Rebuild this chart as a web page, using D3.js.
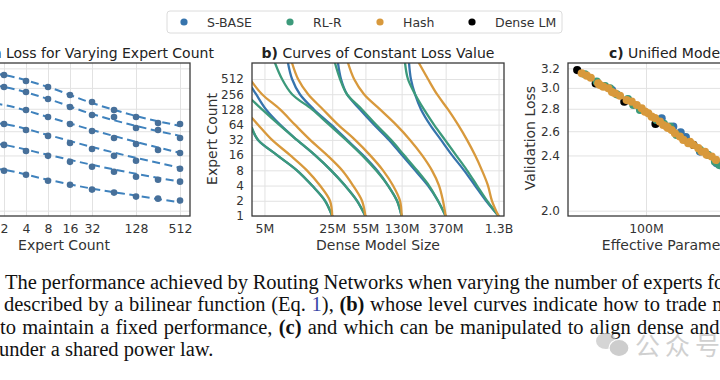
<!DOCTYPE html>
<html><head><meta charset="utf-8">
<script src="https://cdn.jsdelivr.net/npm/d3@7"></script>
<style>body{margin:0;background:#fff;} svg{display:block}</style>
</head><body><svg id="c" width="720" height="380"></svg>
<script>
// ---------------- DATA ----------------
const seriesNames = ["S-BASE", "RL-R", "Hash", "Dense LM"];

// panel a: validation loss vs expert count, one row per dense model size
const aExperts = [2, 4, 8, 16, 32, 64, 128, 256, 512];
const aLossDots = [
  [3.130, 3.069, 3.009, 2.930, 2.863, 2.789, 2.725, 2.672, 2.663],
  [3.009, 2.959, 2.892, 2.816, 2.743, 2.725, 2.628, 2.611, 2.543],
  [null, 2.789, 2.725, 2.663, 2.602, 2.543, 2.493, 2.444, 2.420],
  [2.663, 2.611, 2.560, 2.501, 2.452, 2.397, 2.358, null, 2.297],
  [2.485, 2.436, 2.397, 2.350, 2.312, 2.274, 2.237, 2.215, 2.201],
  [2.282, 2.252, 2.208, 2.179, 2.144, 2.123, 2.095, 2.081, 2.068]
];
const aFitExperts = [1, 2, 8, 32, 128, 512];
const aLossFit = [
  [3.161, 3.130, 3.009, 2.854, 2.734, 2.646],
  [3.038, 3.009, 2.892, 2.752, 2.646, 2.560],
  [2.863, 2.835, 2.725, 2.611, 2.510, 2.420],
  [2.681, 2.663, 2.568, 2.468, 2.381, 2.305],
  [2.510, 2.485, 2.405, 2.327, 2.259, 2.201],
  [2.312, 2.289, 2.215, 2.151, 2.102, 2.055]
];
const aXTicks = [1, 2, 4, 8, 16, 32, 128, 512];
const aYTicks = [2.0, 2.4, 2.6, 2.8, 3.0, 3.2];

// panel b: level curves, points are [dense model size (M), expert count]
const bCurves = [
  // group ending at 25M
  {s: "S-BASE", pts: [[25,1],[21.1,2],[15.5,4],[10.8,8],[6.74,16],[4.29,32],[3.72,52]]},
  {s: "RL-R",   pts: [[25,1],[21.1,2],[15.5,4],[10.8,8],[6.74,16],[4.29,32],[3.72,55]]},
  {s: "Hash",   pts: [[25,1],[23.7,2],[18.7,4],[13.7,8],[9.18,16],[5.99,32],[4.29,64],[3.72,87]]},
  // group ending at 55M
  {s: "S-BASE", pts: [[55,1],[45.1,2],[33.9,4],[24.3,8],[16.6,16],[10.8,32],[7.24,64],[5.19,128],[4.10,256],[3.72,340]]},
  {s: "RL-R",   pts: [[55,1],[45.1,2],[33.9,4],[24.3,8],[16.6,16],[10.8,32],[7.07,64],[4.72,128],[3.72,197]]},
  {s: "Hash",   pts: [[55,1],[50.7,2],[41.0,4],[31.6,8],[22.1,16],[14.8,32],[10.3,64],[7.24,128],[4.72,256],[3.72,450]]},
  // group ending at 130M
  {s: "S-BASE", pts: [[130,1],[116.5,2],[94.1,4],[72.4,8],[51.9,16],[35.5,32],[24.3,64],[16.2,128],[11.6,256],[9.63,512],[8.75,1060]]},
  {s: "RL-R",   pts: [[130,1],[116.5,2],[94.1,4],[70.7,8],[50.7,16],[34.7,32],[23.2,64],[15.5,128],[9.63,256],[7.59,512],[6.43,1060]]},
  {s: "Hash",   pts: [[130,1],[125.1,2],[105.9,4],[83.5,8],[61.3,16],[43.0,32],[28.7,64],[20.1,128],[14.1,256],[11.1,512],[9.63,1060]]},
  // group ending at 370M
  {s: "S-BASE", pts: [[370,1],[308,2],[243,4],[179,8],[131,16],[96.3,32],[67.5,64],[48.4,128],[35.5,256],[30.8,512],[28.7,1060]]},
  {s: "RL-R",   pts: [[370,1],[308,2],[249,4],[187,8],[137.5,16],[101,32],[70.7,64],[50.7,128],[35.5,256],[30.1,512],[26.7,1060]]},
  {s: "Hash",   pts: [[370,1],[347,2],[316,4],[267,8],[211,16],[158.6,32],[113.7,64],[77.8,128],[53.2,256],[42.0,512],[36.4,1060]]},
  // group ending at 1.3B
  {s: "S-BASE", pts: [[1300,1],[964,2],[742,4],[572,8],[430,16],[331,32],[255,64],[206,128],[178.6,256],[162,512],[155,1060]]},
  {s: "RL-R",   pts: [[1300,1],[987,2],[778,4],[614,8],[473,16],[364,32],[280,64],[221,128],[179,256],[151,512],[141,1060]]},
  {s: "Hash",   pts: [[1300,1],[1111,2],[1011,4],[876,8],[742,16],[614,32],[496,64],[391,128],[301,256],[243,512],[196,1060]]}
];
const bXTicks = [5, 25, 55, 130, 370, 1300];
const bXLabels = ["5M", "25M", "55M", "130M", "370M", "1.3B"];
const bYTicks = [1, 2, 4, 8, 16, 32, 64, 128, 256, 512];

// panel c: effective parameters (M) vs validation loss
const cDense = [[15, 3.182], [25, 3.045], [55, 2.866], [130, 2.663], [370, 2.485], [1300, 2.28]];
const cSBase = [[154, 2.713], [212, 2.639], [260, 2.591], [443, 2.431], [703, 2.339], [300, 2.55],
  [39.2, 2.979], [301, 2.526]];
const cRLR = [[18.6, 3.137], [25.7, 3.062], [37.1, 2.996], [44.6, 2.937], [70.5, 2.835], [84.8, 2.789],
  [134, 2.698], [194, 2.639], [233, 2.568], [443, 2.444], [670, 2.350], [755, 2.325],
  [32.3, 3.018], [60.8, 2.892], [164, 2.663], [553, 2.405]];
const cHash = [[17.0, 3.148], [19.5, 3.123], [21.8, 3.102], [26.8, 3.045], [30.8, 3.012], [35.4, 2.996],
  [42.5, 2.947], [48.8, 2.923], [58.7, 2.882], [67.4, 2.866], [77.4, 2.835], [88.8, 2.804],
  [97.3, 2.773], [106.5, 2.758], [117, 2.728], [147, 2.683], [161, 2.654], [177, 2.639],
  [203, 2.610], [222, 2.582], [255, 2.554], [280, 2.526], [321, 2.499], [368, 2.485],
  [423, 2.458], [464, 2.431], [533, 2.405], [612, 2.391],
  [128, 2.715], [183, 2.628], [336, 2.510], [509, 2.428], [689, 2.365], [39.2, 2.959], [28.1, 3.028]];
const cXTicks = [100, 1000];
const cXLabels = ["100M", "1B"];
const cYTicks = [2.0, 2.4, 2.6, 2.8, 3.0, 3.2];

// caption
const captionLines = [
  [["The performance achieved by Routing Networks when varying the number of experts for", ""]],
  [["described by a bilinear function (Eq. ", ""], ["1", "link"], ["), ", ""], ["(b)", "b"], [" whose level curves indicate how to trade model size", ""]],
  [["to maintain a fixed performance, ", ""], ["(c)", "b"], [" and which can be manipulated to align dense and routed", ""]],
  [["under a shared power law.", ""]]
];

// ---------------- STYLE ----------------
const colors = {"S-BASE": "#3674ad", "RL-R": "#3c9a7b", "Hash": "#d8993c", "Dense LM": "#000000"};
const FONT = "DejaVu Sans, sans-serif";
const TXT = "#333";
const svg = d3.select("#c");
svg.append("rect").attr("width", 720).attr("height", 380).attr("fill", "#fff");
const defs = svg.append("defs");

const pTop = 63, pBot = 216;

function frame(id, x, y, xTicks, xFmt, yTicks, yFmt, showY) {
  const [x0, x1] = x.range();
  defs.append("clipPath").attr("id", id).append("rect")
    .attr("x", x0).attr("y", pTop).attr("width", x1 - x0).attr("height", pBot - pTop);
  const g = svg.append("g");
  g.append("g").attr("transform", `translate(0,${pBot})`)
    .call(d3.axisBottom(x).tickValues(xTicks).tickSize(-(pBot - pTop)).tickFormat(""))
    .call(a => a.select(".domain").remove())
    .call(a => a.selectAll("line").attr("stroke", "#e2e2e2").attr("stroke-width", 1));
  g.append("g").attr("transform", `translate(${x0},0)`)
    .call(d3.axisLeft(y).tickValues(yTicks).tickSize(-(x1 - x0)).tickFormat(""))
    .call(a => a.select(".domain").remove())
    .call(a => a.selectAll("line").attr("stroke", "#e2e2e2").attr("stroke-width", 1));
  g.append("g").attr("transform", `translate(0,${pBot})`)
    .call(d3.axisBottom(x).tickValues(xTicks).tickSize(0).tickPadding(8).tickFormat(xFmt))
    .call(a => a.select(".domain").remove())
    .call(a => a.selectAll("text").attr("font-family", FONT).attr("font-size", 12.5).attr("fill", TXT));
  if (showY) {
    g.append("g").attr("transform", `translate(${x0},0)`)
      .call(d3.axisLeft(y).tickValues(yTicks).tickSize(0).tickPadding(8).tickFormat(yFmt))
      .call(a => a.select(".domain").remove())
      .call(a => a.selectAll("text").attr("font-family", FONT).attr("font-size", 12).attr("fill", TXT));
  }
  return g;
}
function border(x) {
  const [x0, x1] = x.range();
  svg.append("rect").attr("x", x0).attr("y", pTop).attr("width", x1 - x0).attr("height", pBot - pTop)
    .attr("fill", "none").attr("stroke", "#3a3a3a").attr("stroke-width", 1.3);
}
function title(cxp, tag, rest) {
  const t = svg.append("text").attr("x", cxp).attr("y", 58).attr("text-anchor", "middle")
    .attr("font-family", FONT).attr("font-size", 14).attr("fill", "#222");
  t.append("tspan").attr("font-weight", "bold").text(tag);
  t.append("tspan").text(" " + rest);
}
function xlabel(cxp, s) {
  svg.append("text").attr("x", cxp).attr("y", 250).attr("text-anchor", "middle")
    .attr("font-family", FONT).attr("font-size", 14).attr("fill", TXT).text(s);
}
function ylabel(x, cyp, s) {
  svg.append("text").attr("transform", `translate(${x},${cyp}) rotate(-90)`).attr("text-anchor", "middle")
    .attr("font-family", FONT).attr("font-size", 14).attr("fill", TXT).text(s);
}

// ---------------- PANEL A ----------------
const ax = d3.scaleLog().base(2).domain([0.25, 701]).range([-62, 190]);
const ay = d3.scaleLog().domain([1.965, 3.257]).range([pBot, pTop]);
frame("clipA", ax, ay, aXTicks, d => d, aYTicks, d3.format(".1f"), false);
const gA = svg.append("g").attr("clip-path", "url(#clipA)");
const aLine = d3.line().x(d => ax(d[0])).y(d => ay(d[1])).curve(d3.curveMonotoneX);
aLossFit.forEach(row => {
  gA.append("path").datum(aFitExperts.map((e, i) => [e, row[i]]))
    .attr("d", aLine).attr("fill", "none").attr("stroke", "#3f82bd").attr("stroke-width", 2)
    .attr("stroke-dasharray", "8,4.5");
});
aLossDots.forEach(row => {
  gA.selectAll(null).data(aExperts.map((e, i) => [e, row[i]]).filter(d => d[1] != null))
    .enter().append("circle").attr("cx", d => ax(d[0])).attr("cy", d => ay(d[1])).attr("r", 3.3)
    .attr("fill", "#47709a");
});
border(ax);
title(63, "a)", "Validation Loss for Varying Expert Count");
xlabel(64, "Expert Count");

// ---------------- PANEL B ----------------
const bx = d3.scaleLog().domain([3.72, 1479]).range([252, 504]);
const by = d3.scaleLog().base(2).domain([1, 1061]).range([pBot, pTop]);
frame("clipB", bx, by, bXTicks, (d, i) => bXLabels[i], bYTicks, d => d, true);
const gB = svg.append("g").attr("clip-path", "url(#clipB)");
const bLine = d3.line().x(d => bx(d[0])).y(d => by(d[1])).curve(d3.curveCatmullRom.alpha(0.5));
bCurves.forEach(c => {
  gB.append("path").datum(c.pts).attr("d", bLine).attr("fill", "none")
    .attr("stroke", colors[c.s]).attr("stroke-width", 2.3).attr("stroke-linecap", "round");
});
border(bx);
title(378, "b)", "Curves of Constant Loss Value");
xlabel(378, "Dense Model Size");
ylabel(217, 139, "Expert Count");

// ---------------- PANEL C ----------------
const cxs = d3.scaleLog().domain([11.64, 12140]).range([568, 820]);
const cys = d3.scaleLog().domain([1.965, 3.257]).range([pBot, pTop]);
frame("clipC", cxs, cys, cXTicks, (d, i) => cXLabels[i], cYTicks, d3.format(".1f"), true);
const gC = svg.append("g").attr("clip-path", "url(#clipC)");
[[cDense, "Dense LM"], [cSBase, "S-BASE"], [cRLR, "RL-R"], [cHash, "Hash"]].forEach(([arr, s]) => {
  gC.selectAll(null).data(arr).enter().append("circle")
    .attr("cx", d => cxs(d[0])).attr("cy", d => cys(d[1])).attr("r", 4.1).attr("fill", colors[s]);
});
border(cxs);
title(694, "c)", "Unified Model Scaling");
xlabel(694, "Effective Parameter Count");
ylabel(535, 138, "Validation Loss");

// ---------------- LEGEND ----------------
const leg = svg.append("g");
leg.append("rect").attr("x", 167).attr("y", 11).attr("width", 395).attr("height", 22).attr("rx", 3)
  .attr("fill", "#fff").attr("stroke", "#dcdcdc");
const legOffsets = {"S-BASE": 184, "RL-R": 290, "Hash": 380, "Dense LM": 472};
seriesNames.forEach(s => {
  const px = legOffsets[s];
  leg.append("circle").attr("cx", px).attr("cy", 22).attr("r", 3.6).attr("fill", colors[s]);
  leg.append("text").attr("x", px + 23).attr("y", 26.5).attr("font-family", FONT).attr("font-size", 12.5)
    .attr("fill", TXT).text(s);
});

// ---------------- CAPTION ----------------
const capX = [5, 4, 0, -1], capY = [289, 311, 334, 356], capWS = [-0.4, 0.5, 1.1, 0];
captionLines.forEach((line, i) => {
  const t = svg.append("text").attr("x", capX[i]).attr("y", capY[i])
    .attr("font-family", "Liberation Serif, Times New Roman, serif").attr("font-size", 20.5)
    .attr("word-spacing", capWS[i]).attr("fill", "#111");
  line.forEach(([s, k]) => {
    const sp = t.append("tspan").text(s);
    if (k === "b") sp.attr("font-weight", "bold");
    if (k === "link") sp.attr("fill", "#3a48a8");
  });
});

// ---------------- WATERMARK ----------------
const wm = svg.append("g").attr("opacity", 0.7);
wm.append("ellipse").attr("cx", 606).attr("cy", 341).attr("rx", 10).attr("ry", 8).attr("fill", "#c4c4c4");
wm.append("ellipse").attr("cx", 619).attr("cy", 348).attr("rx", 10).attr("ry", 8.5).attr("fill", "#b8b8b8")
  .attr("stroke", "#fff").attr("stroke-width", 1.2);
wm.append("text").attr("x", 635).attr("y", 355).attr("font-family", "Noto Sans CJK SC").attr("font-size", 25)
  .attr("letter-spacing", 5).attr("fill", "#bdbdbd").text("公众号");
</script></body></html>
